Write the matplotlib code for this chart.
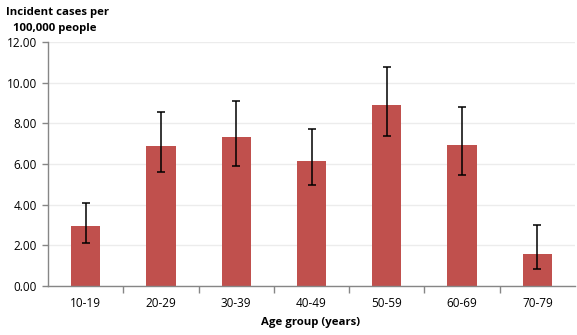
import matplotlib
matplotlib.use("Agg")
import matplotlib.pyplot as plt
import numpy as np

categories = ["10-19", "20-29", "30-39", "40-49", "50-59", "60-69", "70-79"]
values = [2.95, 6.89, 7.33, 6.15, 8.90, 6.94, 1.57]
err_low = [2.10, 5.59, 5.90, 4.97, 7.36, 5.45, 0.82]
err_high = [4.07, 8.54, 9.08, 7.71, 10.76, 8.82, 2.99]
yticks = [0, 2, 4, 6, 8, 10, 12]

plt.rcParams['font.family'] = ['Open Sans', 'DejaVu Sans']

fig = plt.figure(figsize=(5.77, 3.35), dpi=100)
ax = fig.add_axes([48/577, 1 - 286/335, (575-48)/577, (286-42)/335])

x = np.arange(len(categories))
vals = np.array(values)
yerr = np.array([vals - np.array(err_low), np.array(err_high) - vals])
ax.bar(x, vals, width=0.39, color="#C0504D", zorder=2)
ax.errorbar(x, vals, yerr=yerr, fmt="none", ecolor="black", elinewidth=1.1,
            capsize=3, capthick=1.1, zorder=3)

ax.set_xlim(-0.5, len(categories) - 0.5)
ax.set_ylim(0, 12)
ax.set_yticks(yticks)
ax.set_yticklabels([f"{v:.2f}" for v in yticks], fontsize=8.5)
ax.yaxis.grid(True, color="#ececec", linewidth=1, zorder=0)
ax.set_axisbelow(True)

ax.set_xticks(x)
ax.set_xticklabels(categories, fontsize=8.5)
ax.tick_params(axis="x", length=0, pad=8)
ax.set_xticks(np.arange(0.5, len(categories) - 0.5, 1), minor=True)
ax.tick_params(axis="x", which="minor", length=5, color="#868686", width=1)
ax.tick_params(axis="y", length=4, color="#868686", width=1, pad=4, direction="out")

for s in ["top", "right"]:
    ax.spines[s].set_visible(False)
for s in ["left", "bottom"]:
    ax.spines[s].set_color("#868686")
    ax.spines[s].set_linewidth(1)

fig.text(6/577, 1 - 13/335, "Incident cases per", fontsize=8.2, fontweight="bold", va="center", ha="left")
fig.text(13/577, 1 - 28/335, "100,000 people", fontsize=8.2, fontweight="bold", va="center", ha="left")
fig.text(311/577, 1 - 322/335, "Age group (years)", fontsize=8.2, fontweight="bold", va="center", ha="center")

fig.savefig("out.png", dpi=100)
